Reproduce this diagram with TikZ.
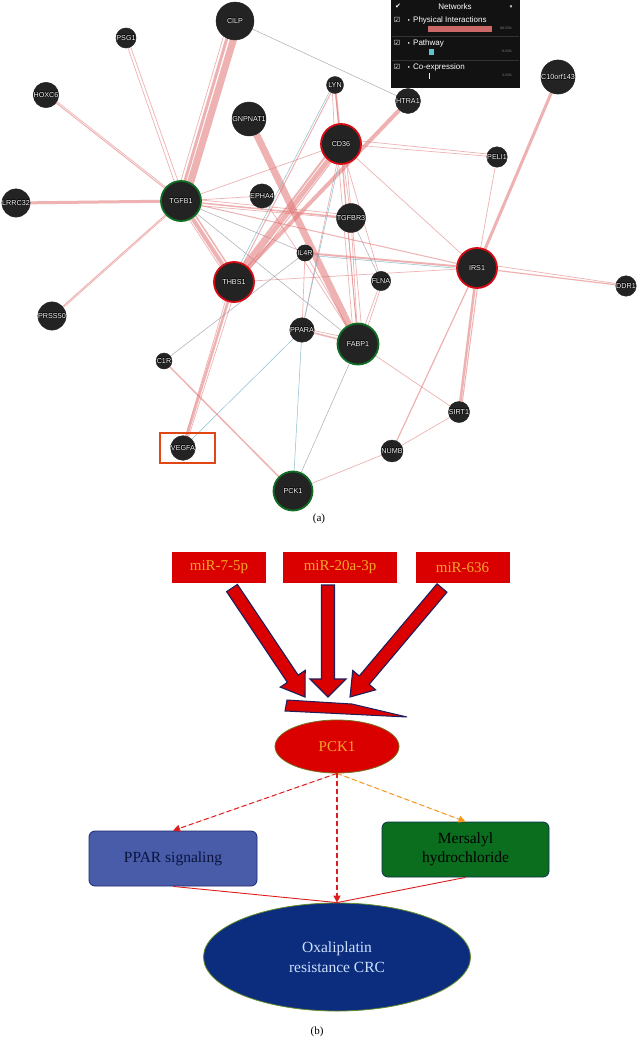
\documentclass[tikz,border=0pt]{standalone}
\usepackage{fontspec}
\setmainfont{Liberation Serif}
\newfontfamily\arial{Liberation Sans}
\newfontfamily\dejavu{DejaVu Sans}
\usetikzlibrary{arrows.meta,calc,shapes.geometric}
\pgfdeclarelayer{back}
\pgfdeclarelayer{bg}
\pgfsetlayers{back,bg,main}
\definecolor{nodefill}{RGB}{35,35,35}
\definecolor{rred}{RGB}{215,10,20}
\definecolor{rgreen}{RGB}{15,110,35}
\definecolor{pk}{RGB}{225,115,115}
\definecolor{bl}{RGB}{120,180,200}
\definecolor{gy}{RGB}{150,150,165}
\definecolor{legbg}{RGB}{18,18,18}
\definecolor{boxred}{RGB}{218,0,0}
\definecolor{mirtext}{RGB}{245,165,40}
\definecolor{navy}{RGB}{30,30,90}
\definecolor{pparfill}{RGB}{72,92,170}
\definecolor{pparedge}{RGB}{30,40,110}
\definecolor{pparText}{RGB}{10,20,60}
\definecolor{merfill}{RGB}{10,110,30}
\definecolor{meredge}{RGB}{10,50,80}
\definecolor{oxfill}{RGB}{12,45,125}
\definecolor{oxedge}{RGB}{100,140,40}
\definecolor{oxtext}{RGB}{205,225,255}
\definecolor{pckedge}{RGB}{120,110,30}
\definecolor{dred}{RGB}{220,30,30}
\definecolor{dorange}{RGB}{245,150,30}
\definecolor{vbox}{RGB}{225,70,20}
\newcommand\olab[1]{\leavevmode\rlap{\color{black}\hspace{-0.5pt}#1}\rlap{\color{black}\hspace{0.5pt}#1}\rlap{\color{black}\raisebox{0.5pt}{#1}}\rlap{\color{black}\raisebox{-0.5pt}{#1}}#1}
\newcommand\barrow[6]{%
\begin{scope}[shift={(#1,#2)},rotate=#3]
\filldraw[fill=boxred,draw=navy,line width=1.1pt,line join=miter]
 (0,-6.5) -- ({#4-#5},-6.5) -- ({#4-#5},-#6) -- (#4,0) -- ({#4-#5},#6) -- ({#4-#5},6.5) -- (0,6.5) -- cycle;
\end{scope}}
\begin{document}
\begin{tikzpicture}[x=1pt,y=-1pt,
  gn/.style={circle,fill=nodefill,draw=nodefill,inner sep=0pt,text=white,font=\arial\fontsize{7.2}{8}\selectfont},
  ringR/.style={draw=rred,line width=1.8pt},
  ringG/.style={draw=rgreen,line width=1.8pt},
  pe/.style={draw=pk,opacity=0.55,line width=0.7pt},
  be/.style={draw=bl,opacity=0.85,line width=0.5pt},
  ge/.style={draw=gy,opacity=0.8,line width=0.5pt},
  mir/.style={rectangle,fill=boxred,text=mirtext,minimum width=94,minimum height=31,inner sep=0pt,font=\fontsize{15}{17}\selectfont},
  lg/.style={text=white,font=\arial\fontsize{8}{9}\selectfont,inner sep=0pt},
  pct/.style={text=gray,font=\arial\fontsize{3.5}{4}\selectfont,inner sep=0pt},
  dsh/.style={dash pattern=on 5pt off 3pt,line width=1pt},
  figcap/.style={font=\fontsize{11}{13}\selectfont,inner sep=0pt}
]
\useasboundingbox (0,0) rectangle (639,1041);
\begin{pgfonlayer}{back}
\fill[white] (0,0) rectangle (639,1041);
\end{pgfonlayer}

% ---------- network nodes ----------
\node[gn,minimum size=38] (cilp) at (235,21) {\olab{CILP}};
\node[gn,minimum size=14] (psg1) at (126,38) {\olab{PSG1}};
\node[gn,minimum size=14] (hoxc6) at (46,95) {\olab{HOXC6}};
\node[gn,minimum size=33] (gnpnat1) at (249,119) {\olab{GNPNAT1}};
\node[gn,minimum size=20] (lrrc32) at (16,203) {\olab{LRRC32}};
\node[gn,ringG,minimum size=40] (tgfb1) at (181,201) {\olab{TGFB1}};
\node[gn,minimum size=14] (epha4) at (262,196) {\olab{EPHA4}};
\node[gn,minimum size=15] (il4r) at (305,253) {\olab{IL4R}};
\node[gn,minimum size=17] (lyn) at (335,85) {\olab{LYN}};
\node[gn,minimum size=25] (htra1) at (408,101) {\olab{HTRA1}};
\node[gn,minimum size=18] (c10) at (558,77) {\olab{C10orf143}};
\node[gn,ringR,minimum size=40] (cd36) at (341,144) {\olab{CD36}};
\node[gn,minimum size=16] (peli1) at (497,157) {\olab{PELI1}};
\node[gn,minimum size=14] (tgfbr3) at (351,218) {\olab{TGFBR3}};
\node[gn,ringR,minimum size=40] (irs1) at (477,268) {\olab{IRS1}};
\node[gn,minimum size=16] (ddr1) at (626,286) {\olab{DDR1}};
\node[gn,minimum size=14] (flna) at (381,281) {\olab{FLNA}};
\node[gn,ringG,minimum size=41] (fabp1) at (358,344) {\olab{FABP1}};
\node[gn,minimum size=15] (sirt1) at (459,412) {\olab{SIRT1}};
\node[gn,minimum size=15] (numb) at (392,451) {\olab{NUMB}};
\node[gn,ringR,minimum size=40] (thbs1) at (234,282) {\olab{THBS1}};
\node[gn,minimum size=14] (prss50) at (52,316) {\olab{PRSS50}};
\node[gn,minimum size=14] (ppara) at (302,330) {\olab{PPARA}};
\node[gn,minimum size=16] (c1r) at (164,361) {\olab{C1R}};
\node[gn,minimum size=16] (vegfa) at (183,448) {\olab{VEGFA}};
\node[gn,ringG,minimum size=39] (pck1n) at (293,491) {\olab{PCK1}};
\node[draw=vbox,line width=2pt,minimum width=55,minimum height=30,inner sep=0pt] (vbox) at (187.5,448) {};

% ---------- network edges ----------
\begin{pgfonlayer}{bg}
\draw[pe,line width=7] ([xshift=4]cilp.center) -- ([xshift=4]tgfb1.center);
\draw[pe,line width=3] ([xshift=-3]cilp.center) -- ([xshift=-2]tgfb1.center);
\draw[pe] ([xshift=-7]cilp.center) -- ([xshift=-6]tgfb1.center);
\draw[ge] (cilp) -- (htra1);
\draw[pe] ([xshift=-1.5]psg1.center) -- (tgfb1.center);
\draw[pe] ([xshift=1.5]psg1.center) -- ([xshift=4]tgfb1.center);
\draw[pe,line width=1] (hoxc6.center) -- (tgfb1.center);
\draw[pe] ([yshift=2]hoxc6.center) -- ([yshift=2]tgfb1.center);
\draw[pe,line width=3] (lrrc32) -- (tgfb1);
\draw[pe,line width=1] (prss50.center) -- (tgfb1.center);
\draw[pe] ([xshift=2]prss50.center) -- ([xshift=2]tgfb1.center);
\draw[pe,line width=4] (tgfb1) -- (thbs1);
\draw[pe,line width=1.5] ([xshift=5]tgfb1.center) -- ([xshift=5]thbs1.center);
\draw[pe] ([xshift=-4]tgfb1.center) -- ([xshift=-4]thbs1.center);
\draw[pe,line width=1.5] (tgfb1) -- (tgfbr3);
\draw[pe] ([yshift=3]tgfb1.center) -- ([yshift=3]tgfbr3.center);
\draw[pe] ([yshift=-3]tgfb1.center) -- ([yshift=-1]tgfbr3.center);
\draw[pe] (tgfb1) -- (epha4);
\draw[pe,line width=1] (tgfb1) -- (irs1);
\draw[ge] (tgfb1) -- (il4r);
\draw[ge] (tgfb1) -- (fabp1);
\draw[pe] (tgfb1) -- (cd36);
\draw[pe,line width=2.5] (thbs1) -- (vegfa);
\draw[pe] ([xshift=4]thbs1.center) -- ([xshift=2]vegfa.center);
\draw[pe] ([xshift=-3]thbs1.center) -- ([xshift=-1]vegfa.center);
\draw[be] (ppara) -- (vegfa);
\draw[pe,line width=7] (gnpnat1) -- (fabp1);
\draw[pe,line width=5] (cd36) -- (thbs1);
\draw[pe,line width=2] ([xshift=-6]cd36.center) -- ([xshift=-4]thbs1.center);
\draw[pe,line width=1] ([xshift=4]cd36.center) -- ([xshift=6]thbs1.center);
\draw[pe,line width=4] (htra1) -- (thbs1);
\draw[pe,line width=2] (lyn) -- (cd36);
\draw[pe] ([xshift=-3]lyn.center) -- ([xshift=-6]cd36.center);
\draw[pe,line width=1] (lyn) -- (thbs1);
\draw[be] ([xshift=-2]lyn.center) -- ([xshift=-3]thbs1.center);
\draw[pe] (lyn) -- (fabp1);
\draw[pe] (cd36) -- (peli1);
\draw[pe] ([yshift=5]cd36.center) -- ([yshift=2]peli1.center);
\draw[pe] (cd36) -- (irs1);
\draw[pe] (cd36) -- (fabp1);
\draw[pe] ([xshift=-4]cd36.center) -- ([xshift=-4]fabp1.center);
\draw[pe] ([xshift=4]cd36.center) -- ([xshift=5]fabp1.center);
\draw[pe] (cd36) -- (ppara);
\draw[be] ([xshift=2]cd36.center) -- (ppara);
\draw[pe] (cd36) -- (tgfbr3);
\draw[pe] (cd36) -- (flna);
\draw[pe,line width=2] (il4r) -- (irs1);
\draw[be] ([yshift=-2]il4r.center) -- ([yshift=-2]irs1.center);
\draw[ge] (c1r) -- (il4r);
\draw[pe] (il4r) -- (fabp1);
\draw[pe] (il4r) -- (ppara);
\draw[pe,line width=3] (irs1) -- (c10);
\draw[pe] (irs1) -- (peli1);
\draw[pe,line width=1.2] (irs1) -- (ddr1);
\draw[pe] ([yshift=5]irs1.center) -- ([yshift=1]ddr1.center);
\draw[pe,line width=2.5] (irs1) -- (sirt1);
\draw[pe,line width=1] ([xshift=3]irs1.center) -- ([xshift=2]sirt1.center);
\draw[pe,line width=1.2] (irs1) -- (numb);
\draw[pe] (fabp1) -- (sirt1);
\draw[pe] (fabp1) -- (flna);
\draw[pe] ([xshift=4]fabp1.center) -- ([xshift=2]flna.center);
\draw[pe,line width=1.5] (fabp1) -- (ppara);
\draw[pe] ([yshift=4]fabp1.center) -- ([yshift=2]ppara.center);
\draw[ge] (fabp1) -- (pck1n);
\draw[pe] (epha4) -- (fabp1);
\draw[pe] (tgfbr3) -- (fabp1);
\draw[ge] (tgfbr3) -- (flna);
\draw[pe] (numb) -- (sirt1);
\draw[pe] (numb) -- (pck1n);
\draw[pe,line width=1.5] (c1r) -- (pck1n);
\draw[be] (ppara) -- (pck1n);
\draw[pe] (thbs1) -- (irs1);
\end{pgfonlayer}

% ---------- legend ----------
\fill[legbg] (391,0) rectangle (520,88);
\draw[gray!40!black,line width=0.4pt] (392,36) -- (519,36) (392,60) -- (519,60);
\node[text=white,inner sep=0pt,font=\dejavu\fontsize{7}{8}\selectfont] (lchk) at (398,6) {✔};
\node[lg] (lnet) at (455,7) {Networks};
\node[text=white,inner sep=0pt,font=\dejavu\fontsize{5}{6}\selectfont] (ldrop) at (511,7) {▾};
\node[text=white,inner sep=0pt,font=\dejavu\fontsize{7}{8}\selectfont] (c1) at (397,20) {☑};
\node[text=white,inner sep=0pt,font=\dejavu\fontsize{7}{8}\selectfont] (c2) at (397,43) {☑};
\node[text=white,inner sep=0pt,font=\dejavu\fontsize{7}{8}\selectfont] (c3) at (397,67) {☑};
\node[text=white,inner sep=0pt,font=\dejavu\fontsize{4}{5}\selectfont] (t1) at (409,20) {▸};
\node[text=white,inner sep=0pt,font=\dejavu\fontsize{4}{5}\selectfont] (t2) at (409,43) {▸};
\node[text=white,inner sep=0pt,font=\dejavu\fontsize{4}{5}\selectfont] (t3) at (409,67) {▸};
\node[lg,anchor=west] (l1) at (413,20) {Physical Interactions};
\node[lg,anchor=west] (l2) at (413,43) {Pathway};
\node[lg,anchor=west] (l3) at (413,67) {Co-expression};
\fill[pk!90!black] (428,26) rectangle (492,32);
\fill[bl!80!cyan] (429,49) rectangle (433.5,55);
\fill[white!85!gray] (428.5,73) rectangle (429.5,79);
\node[pct] (p1) at (506,28) {88.33\%};
\node[pct] (p2) at (507,51) {8.33\%};
\node[pct] (p3) at (507,75) {3.33\%};

\node[figcap] (capa) at (319,519) {(a)};

% ---------- part (b) ----------
\node[mir] (m1) at (219,567.5) {miR-7-5p};
\node[mir,minimum width=114] (m2) at (340,567.5) {miR-20a-3p};
\node[mir] (m3) at (462.5,567.5) {miR-636};

\barrow{232}{588}{-56.19}{131.2}{22}{15}
\barrow{328}{585}{-90}{112}{18}{18}
\barrow{442}{588}{-130.17}{142.6}{22}{15}
\filldraw[fill=boxred,draw=navy,line width=1pt,line join=miter] (287,700) -- (285,711) -- (407,717) -- (352,704) -- cycle;

\node[ellipse,fill=boxred,draw=pckedge,line width=0.8pt,minimum width=124,minimum height=53,inner sep=0pt,text=mirtext,font=\fontsize{15}{17}\selectfont] (pck) at (337,746.5) {PCK1};
\node[rectangle,rounded corners=6pt,fill=pparfill,draw=pparedge,line width=0.8pt,minimum width=168,minimum height=55,inner sep=0pt,text=pparText,font=\fontsize{15.5}{17}\selectfont] (ppar) at (173,858.5) {PPAR signaling};
\node[rectangle,rounded corners=6pt,fill=merfill,draw=meredge,line width=0.8pt,minimum width=167,minimum height=55,inner sep=0pt,text=black,align=center,font=\fontsize{15.5}{19.5}\selectfont] (mers) at (465.5,849.5) {Mersalyl\\hydrochloride};
\node[ellipse,fill=oxfill,draw=oxedge,line width=0.8pt,minimum width=267,minimum height=108,inner sep=0pt,text=oxtext,align=center,font=\fontsize{15.5}{20}\selectfont] (oxa) at (337,957) {Oxaliplatin\\resistance CRC};

\draw[draw=dred,line width=0.9pt] (ppar.south) -- (oxa.north);
\draw[draw=dred,line width=0.9pt] (mers.south) -- (oxa.north);
\draw[draw=dred,fill=dred,dsh,-{Triangle[length=7,width=7]}] (pck.south) -- (ppar.north);
\draw[draw=dorange,fill=dorange,dsh,-{Triangle[length=7,width=7]}] (pck.south) -- (mers.north);
\draw[draw=dred,fill=dred,dsh,line width=1.3pt,-{Triangle[length=7,width=7]}] (pck.south) -- (oxa.north);

\node[figcap] (capb) at (317,1032) {(b)};
\end{tikzpicture}
\end{document}
